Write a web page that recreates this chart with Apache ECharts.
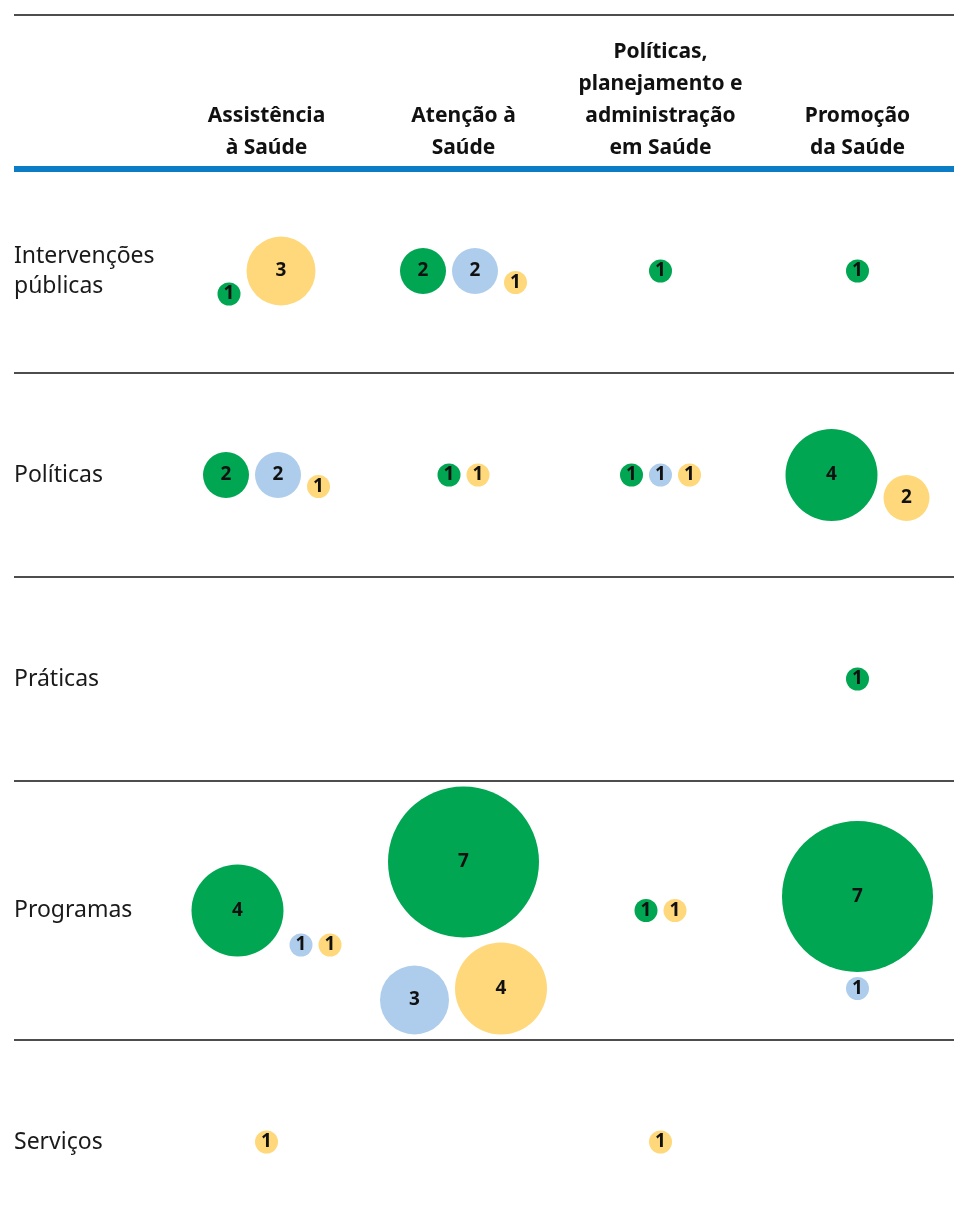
<!DOCTYPE html>
<html lang="pt-BR">
<head>
<meta charset="utf-8" />
<title>Matriz de bolhas</title>
<script src="https://cdn.jsdelivr.net/npm/echarts@6/dist/echarts.min.js"></script>
<style>
  html, body { margin: 0; padding: 0; background: #fff; }
  #main { width: 954px; height: 1231px; }
</style>
</head>
<body>
<div id="main"></div>
<script>
// colunas (cabeçalho) e linhas (rótulos à esquerda)
const columns = [
  'Assistência\nà Saúde',
  'Atenção à\nSaúde',
  'Políticas,\nplanejamento e\nadministração\nem Saúde',
  'Promoção\nda Saúde',
];
const rows = ['Intervenções\npúblicas', 'Políticas', 'Práticas', 'Programas', 'Serviços'];

// contagens por linha x coluna (null = sem bolha)
const greenValues = [
  [1, 2, 1, 1],
  [2, 1, 1, 4],
  [null, null, null, 1],
  [4, 7, 1, 7],
  [null, null, null, null],
];
const blueValues = [
  [null, 2, null, null],
  [2, null, 1, null],
  [null, null, null, null],
  [1, 3, null, 1],
  [null, null, null, null],
];
const yellowValues = [
  [3, 1, null, null],
  [1, 1, 1, 2],
  [null, null, null, null],
  [1, 4, 1, null],
  [1, null, 1, null],
];

const groups = [
  { name: 'verde', color: '#00a651', values: greenValues },
  { name: 'azul', color: '#aecdec', values: blueValues },
  { name: 'amarelo', color: '#fed87a', values: yellowValues },
];

// layout das bolhas dentro de cada célula
const SIZE_PER_UNIT = 23;
const MAX_DIAM = 151;
const GAP_X = 6;
const GAP_Y = 5;
const MAX_LINE_W = 170;
const MIN_ROW_H = 204;
const ROW_PAD = 11;
const LABEL_COL_W = 154;
const COL_W = 197;

function diam(v) {
  return Math.min(v * SIZE_PER_UNIT, MAX_DIAM);
}

// quebra em linhas (como um flex-wrap), alinhando pela base e centralizando
function layoutCell(r, c) {
  const items = [];
  groups.forEach((g, gi) => {
    const v = g.values[r][c];
    if (v) items.push({ gi, v, d: diam(v) });
  });
  const lines = [];
  let cur = null;
  items.forEach((it) => {
    if (cur && cur.w + GAP_X + it.d <= MAX_LINE_W) {
      cur.items.push(it);
      cur.w += GAP_X + it.d;
      cur.h = Math.max(cur.h, it.d);
    } else {
      cur = { items: [it], w: it.d, h: it.d };
      lines.push(cur);
    }
  });
  let blockH = 0;
  lines.forEach((l, i) => { blockH += l.h + (i ? GAP_Y : 0); });
  let y = -blockH / 2;
  lines.forEach((l) => {
    let x = -l.w / 2;
    l.items.forEach((it) => {
      it.dx = x + it.d / 2;
      it.dy = y + l.h - it.d / 2;
      x += it.d + GAP_X;
    });
    y += l.h + GAP_Y;
  });
  return { items, blockH };
}

const cells = rows.map((_, r) => columns.map((_, c) => layoutCell(r, c)));

// altura de cada linha depende do conteúdo
const rowHeights = cells.map((rc) => Math.max(MIN_ROW_H, ...rc.map((cell) => cell.blockH + ROW_PAD)));
const rowStarts = [];
let acc = 0;
rowHeights.forEach((h) => { rowStarts.push(acc); acc += h; });
const totalH = acc;
const rowCenters = rowStarts.map((s, i) => s + rowHeights[i] / 2);
const rowEnds = rowStarts.map((s, i) => s + rowHeights[i]);

// dados das séries de dispersão
const seriesData = groups.map(() => []);
cells.forEach((rc, r) => {
  rc.forEach((cell, c) => {
    cell.items.forEach((it) => {
      seriesData[it.gi].push({
        value: [c + 1, rowCenters[r], it.v],
        symbolSize: it.d,
        symbolOffset: [it.dx, it.dy],
      });
    });
  });
});

const FONT = '"Noto Sans", sans-serif';

let chartDom = document.getElementById('main');
let myChart = echarts.init(chartDom);

let option = {
  animation: false,
  grid: {
    left: 14,
    top: 169,
    width: LABEL_COL_W + COL_W * columns.length,
    height: totalH,
    outerBoundsMode: 'none',
    containLabel: false,
  },
  xAxis: {
    type: 'value',
    position: 'top',
    min: 0.5 - LABEL_COL_W / COL_W,
    max: columns.length + 0.5,
    axisLine: { show: true, lineStyle: { color: '#0b7dc4', width: 6, cap: 'butt' } },
    axisTick: { show: false },
    splitLine: { show: false },
    axisLabel: {
      customValues: columns.map((_, i) => i + 1),
      formatter: (v) => columns[Math.round(v) - 1] || '',
      fontFamily: FONT,
      fontWeight: 'bold',
      fontSize: 21,
      lineHeight: 32,
      color: '#111',
      margin: 5,
      align: 'center',
    },
  },
  yAxis: {
    type: 'value',
    inverse: true,
    min: 0,
    max: totalH,
    axisLine: { show: false },
    axisTick: { show: false },
    splitLine: { show: false },
    axisLabel: {
      inside: true,
      margin: 0,
      customValues: rowCenters,
      formatter: (v) => {
        const i = rowCenters.findIndex((c) => Math.abs(c - v) < 0.5);
        return i >= 0 ? rows[i] : '';
      },
      fontFamily: FONT,
      fontSize: 23,
      lineHeight: 30,
      padding: [5, 0, 0, 0],
      color: '#1a1a1a',
      align: 'left',
      verticalAlign: 'middle',
    },
  },
  // filete superior
  graphic: [
    {
      type: 'line',
      shape: { x1: 14, y1: 15, x2: 954, y2: 15 },
      style: { stroke: '#4d4d4d', lineWidth: 2 },
      silent: true,
    },
  ],
  series: groups.map((g, gi) => ({
    name: g.name,
    type: 'scatter',
    data: seriesData[gi],
    itemStyle: { color: g.color, opacity: 1 },
    label: {
      show: true,
      position: 'inside',
      formatter: (p) => p.value[2],
      fontFamily: FONT,
      fontWeight: 'bold',
      fontSize: 19,
      color: '#111',
    },
    emphasis: { disabled: true },
    markLine: gi === 0 ? {
      silent: true,
      symbol: 'none',
      label: { show: false },
      lineStyle: { color: '#4d4d4d', width: 2, type: 'solid' },
      data: rowEnds.map((v) => ({ yAxis: v })),
    } : undefined,
  })),
};

option && myChart.setOption(option);
</script>
</body>
</html>
